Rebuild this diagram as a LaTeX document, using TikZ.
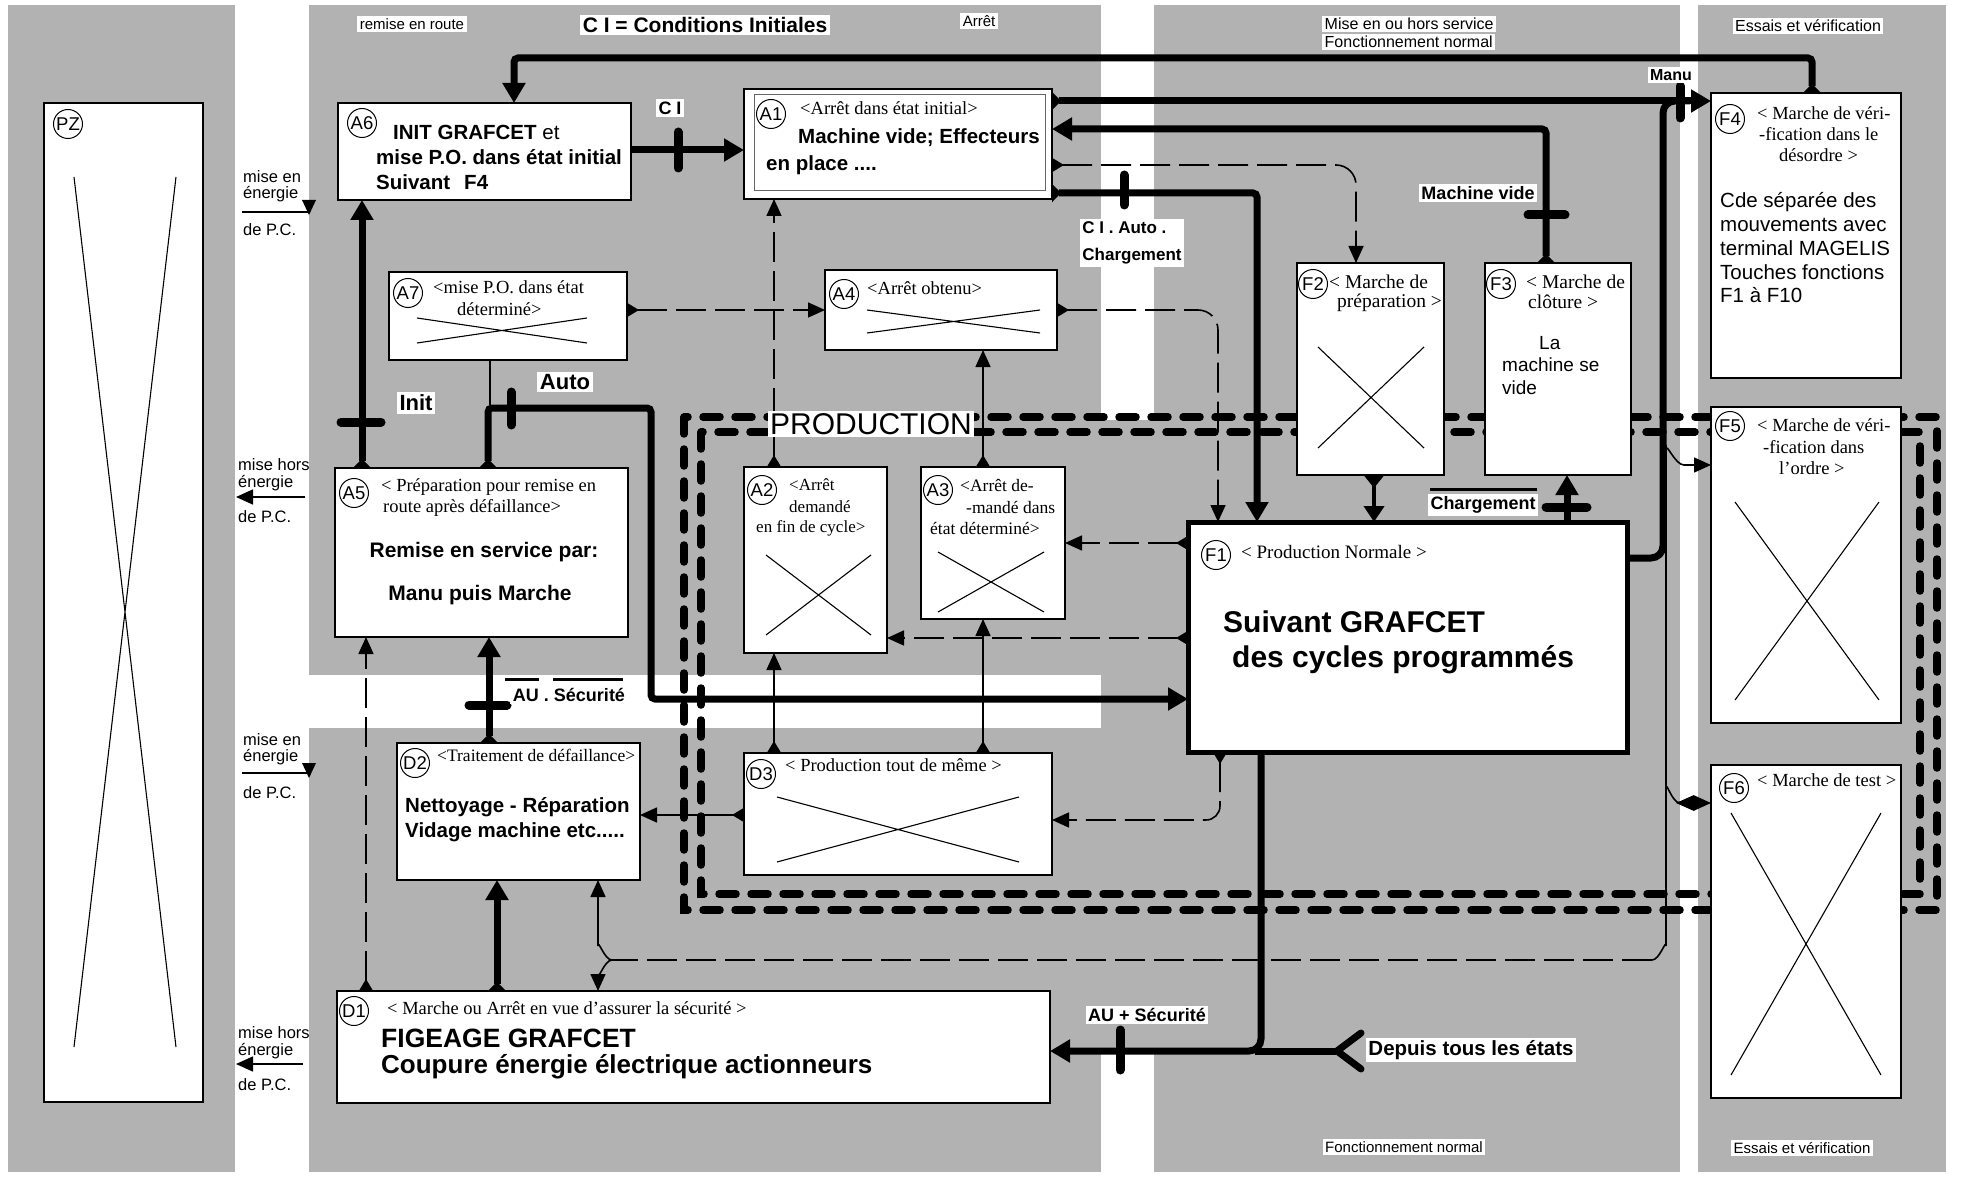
\documentclass[tikz,border=0pt]{standalone}
\usepackage{fontspec}
\setmainfont{Liberation Serif}
\setsansfont{Liberation Sans}
\usetikzlibrary{arrows.meta}
\newcommand\myfs[1]{\fontsize{#1}{#1}\selectfont}
\begin{document}
\begin{tikzpicture}[x=1pt,y=-1pt,
  panel/.style={fill=black!30},
  box/.style={draw=black,line width=1.6pt,fill=white,inner sep=0pt,outer sep=0pt,anchor=north west},
  crs/.style={line width=1.1pt},
  lab/.style={circle,draw=black,line width=1pt,fill=white,inner sep=0pt,minimum size=29pt,font=\sffamily\myfs{18.5}},
  ser/.style={anchor=west,inner sep=0pt,font=\rmfamily\myfs{18.5}},
  bs/.style={anchor=west,inner sep=0pt,font=\sffamily\bfseries\myfs{20.5}},
  rs/.style={anchor=west,inner sep=0pt,font=\sffamily\myfs{20.5}},
  sm/.style={anchor=west,inner sep=0pt,font=\sffamily\myfs{16.5}},
  wl/.style={fill=white,inner sep=2.5pt},
  thk/.style={line width=7pt},
  thn/.style={line width=1.6pt},
  dsh/.style={line width=1.6pt,dash pattern=on 30pt off 9pt},
  bar/.style={line width=9pt,line cap=round},
  prod/.style={line width=7.5pt,dash pattern=on 17pt off 15pt,line cap=round},
  ta/.style={-{Triangle[length=20pt,width=22pt]}},
  tda/.style={{Triangle[reversed,length=9pt,width=18pt]}-{Triangle[length=20pt,width=22pt]}},
  ar/.style={-{Triangle[length=17pt,width=15pt]}},
  da/.style={{Triangle[reversed,length=12pt,width=14pt]}-{Triangle[length=17pt,width=15pt]}}
]
\useasboundingbox (0,0) rectangle (1963,1177);
\fill[white] (0,0) rectangle (1963,1177);
% ---------- zones ----------
\fill[panel] (8,5) rectangle (235,1172);
\fill[panel] (309,5) rectangle (1101,675);
\fill[panel] (309,728) rectangle (1101,1172);
\fill[panel] (1154,5) rectangle (1680,1172);
\fill[panel] (1101,420) rectangle (1154,1053);
\fill[panel] (1698,5) rectangle (1946,1172);
% ---------- production frame ----------
\draw[prod] (684,417) rectangle (1937,910);
\draw[prod] (701,432) rectangle (1920,894);
% ---------- boxes ----------
\node[box,minimum width=159pt,minimum height=999pt] (PZ) at (44,103) {};
\node[box,minimum width=293pt,minimum height=97pt] (A6) at (338,103) {};
\node[box,minimum width=308pt,minimum height=110pt] (A1) at (744,89) {};
\draw[line width=1pt,black!60] (754,95) rectangle (1045,191);
\node[box,minimum width=238pt,minimum height=88pt] (A7) at (389,272) {};
\node[box,minimum width=232pt,minimum height=80pt] (A4) at (825,270) {};
\node[box,minimum width=293pt,minimum height=169pt] (A5) at (335,468) {};
\node[box,minimum width=143pt,minimum height=186pt] (A2) at (744,467) {};
\node[box,minimum width=144pt,minimum height=152pt] (A3) at (921,467) {};
\node[box,minimum width=243pt,minimum height=137pt] (D2) at (397,743) {};
\node[box,minimum width=308pt,minimum height=122pt] (D3) at (744,753) {};
\node[box,minimum width=713pt,minimum height=112pt] (D1) at (337,991) {};
\node[box,minimum width=147pt,minimum height=212pt] (F2) at (1297,263) {};
\node[box,minimum width=146pt,minimum height=212pt] (F3) at (1485,263) {};
\node[box,minimum width=190pt,minimum height=285pt] (F4) at (1711,93) {};
\node[box,line width=5pt,minimum width=439pt,minimum height=230pt] (F1) at (1188,522) {};
\node[box,minimum width=190pt,minimum height=316pt] (F5) at (1711,407) {};
\node[box,minimum width=190pt,minimum height=333pt] (F6) at (1711,765) {};
% ---------- crosses ----------
\draw[crs] (74,177) -- (176,1047) (176,177) -- (74,1047);
\draw[crs] (417,318) -- (587,343) (417,343) -- (587,318);
\draw[crs] (867,310) -- (1040,333) (867,333) -- (1040,310);
\draw[crs] (766,555) -- (871,635) (766,635) -- (871,555);
\draw[crs] (938,552) -- (1044,612) (938,612) -- (1044,552);
\draw[crs] (777,797) -- (1019,862) (777,862) -- (1019,797);
\draw[crs] (1318,347) -- (1424,448) (1318,448) -- (1424,347);
\draw[crs] (1735,502) -- (1879,700) (1735,700) -- (1879,502);
\draw[crs] (1731,813) -- (1881,1075) (1731,1075) -- (1881,813);
% ---------- thick connectors ----------
\draw[thk,tda,rounded corners=4pt] (1812,0 |- F4.north) -- (1812,58) -- (514,58) -- (514,0 |- A6.north);
\draw[thk,tda] (A1.east |- 0,101) -- (F4.west |- 0,101);
\draw[thk,rounded corners=12pt] (F1.east |- 0,558) -- (1663,558) -- (1663,101) -- (1690,101);
\draw[thk,tda,rounded corners=4pt] (1546,0 |- F3.north) -- (1546,129) -- (A1.east |- 0,129);
\draw[thk,tda,rounded corners=4pt] (A1.east |- 0,193) -| (1257,0 |- F1.north);
\draw[thk,ta] (A6.east |- 0,150) -- (A1.west |- 0,150);
\draw[thk,tda] (362,0 |- A5.north) -- (362,0 |- A6.south);
\draw[thk,tda,rounded corners=4pt] (488,0 |- A5.north) -- (488,408) -- (651,408) -- (651,699) -- (F1.west |- 0,699);
\draw[line width=4pt,{Triangle[reversed,length=13pt,width=20pt]}-{Triangle[length=16pt,width=20pt]}] (1374,0 |- F2.south) -- (1374,0 |- F1.north);
\draw[thk,ta] (1567,0 |- F1.north) -- (1567,0 |- F3.south);
\draw[thk,ta,rounded corners=12pt] (1261,0 |- F1.south) |- (D1.east |- 0,1051);
\coordinate (dep) at (1337,1051);
\draw[thk] (dep) -- (1255,1051);
\draw[thk,line cap=round] (1361,1033) -- (dep) -- (1361,1069);
\draw[thk,tda] (489,0 |- D2.north) -- (489,0 |- A5.south);
\draw[thk,tda] (497,0 |- D1.north) -- (497,0 |- D2.south);
% ---------- transition bars ----------
\draw[bar] (1680,86) -- (1680,118);
\draw[bar] (1528,215) -- (1565,215);
\draw[bar] (1124,175) -- (1124,205);
\draw[bar] (678,132) -- (678,168);
\draw[bar] (341,422) -- (381,422);
\draw[bar] (511,392) -- (511,425);
\draw[bar] (1546,507) -- (1587,507);
\draw[bar] (1120,1030) -- (1120,1070);
\draw[bar] (469,705) -- (507,705);
% ---------- thin connectors ----------
\draw[thn] (490,0 |- A7.south) -- (490,405);
\draw[dsh,da] (A7.east |- 0,310) -- (A4.west |- 0,310);
\draw[dsh,da,rounded corners=20pt] (A4.east |- 0,310) -| (1218,0 |- F1.north);
\draw[dsh,da,rounded corners=20pt] (A1.east |- 0,165) -| (1356,0 |- F2.north);
\draw[dsh,da] (774,0 |- A2.north) -- (774,0 |- A1.south);
\draw[thn,da] (983,0 |- A3.north) -- (983,0 |- A4.south);
\draw[dsh,da] (F1.west |- 0,543) -- (A3.east |- 0,543);
\draw[dsh,da] (F1.west |- 0,638) -- (A2.east |- 0,638);
\draw[thn,da] (774,0 |- D3.north) -- (774,0 |- A2.south);
\draw[thn,da] (983,0 |- D3.north) -- (983,0 |- A3.south);
\draw[thn,da] (D3.west |- 0,815) -- (D2.east |- 0,815);
\draw[dsh,da,rounded corners=14pt] (1220,0 |- F1.south) |- (D3.east |- 0,820);
\draw[dsh,da] (366,0 |- D1.north) -- (366,0 |- A5.south);
\coordinate (jtop) at (1666,445);
\coordinate (jbot) at (612,960);
\draw[thn] (jtop) -- (1666,946) to[out=90,in=0] (1652,960);
\draw[dsh] (1652,960) -- (jbot);
\draw[thn,ar] (jbot) to[out=180,in=90] (598,946) -- (598,0 |- D2.south);
\draw[thn,ar] (jbot) to[out=180,in=-90] (598,974) -- (598,0 |- D1.north);
\draw[thn,ar] (1666,450) to[out=90,in=180] (1684,465) -- (F5.west |- 0,465);
\draw[thn,ar] (1666,788) to[out=90,in=180] (1680,803) -- (F6.west |- 0,803);
\fill (1676,803) -- (1694,795) -- (1694,811) -- cycle;
% ---------- power arrows ----------
\draw[thn] (242,212) -- (309,212);
\fill (302,200) -- (316,200) -- (309,215) -- cycle;
\draw[thn,ar] (305,497) -- (236,497);
\draw[thn] (242,773) -- (309,773);
\fill (302,763) -- (316,763) -- (309,778) -- cycle;
\draw[thn,ar] (303,1064) -- (236,1064);
\node[sm] (pa1) at (243,177) {mise en};
\node[sm] (pa2) at (243,194) {énergie};
\node[sm] (pa3) at (243,230) {de P.C.};
\node[sm] (pb1) at (238,465) {mise hors};
\node[sm] (pb2) at (238,483) {énergie};
\node[sm] (pb3) at (238,517) {de P.C.};
\node[sm] (pc1) at (243,740) {mise en};
\node[sm] (pc2) at (243,757) {énergie};
\node[sm] (pc3) at (243,793) {de P.C.};
\node[sm] (pd1) at (238,1033) {mise hors};
\node[sm] (pd2) at (238,1051) {énergie};
\node[sm] (pd3) at (238,1085) {de P.C.};
% ---------- circled labels ----------
\node[lab] (cPZ) at (68,124) {PZ};
\node[lab] (cA6) at (362,123) {A6};
\node[lab] (cA1) at (771,114) {A1};
\node[lab] (cA7) at (408,293) {A7};
\node[lab] (cA4) at (844,294) {A4};
\node[lab] (cA5) at (354,493) {A5};
\node[lab] (cA2) at (762,490) {A2};
\node[lab] (cA3) at (938,490) {A3};
\node[lab] (cD2) at (415,763) {D2};
\node[lab] (cD3) at (761,774) {D3};
\node[lab] (cD1) at (354,1011) {D1};
\node[lab] (cF1) at (1216,555) {F1};
\node[lab] (cF2) at (1313,284) {F2};
\node[lab] (cF3) at (1501,284) {F3};
\node[lab] (cF4) at (1730,119) {F4};
\node[lab] (cF5) at (1730,426) {F5};
\node[lab] (cF6) at (1734,788) {F6};
% ---------- box texts ----------
\node[bs] (tA6a) at (393,132) {INIT GRAFCET {\mdseries et}};
\node[bs] (tA6b) at (376,157) {mise P.O. dans état initial};
\node[bs] (tA6c) at (376,182) {Suivant\hspace{14pt}F4};
\node[ser] (tA1a) at (800,108) {<Arrêt dans état initial>};
\node[bs] (tA1b) at (798,138) {Machine vide; Effecteurs};
\node[bs] (tA1c) at (766,165) {en place ....};
\node[ser] (tA7a) at (433,287) {<mise P.O. dans état};
\node[ser] (tA7b) at (457,309) {déterminé>};
\node[ser] (tA4) at (867,288) {<Arrêt obtenu>};
\node[ser] (tA5a) at (381,487) {< Préparation pour remise en};
\node[ser] (tA5b) at (383,508) {route après défaillance>};
\node[inner sep=0pt,font=\sffamily\bfseries\myfs{21}] (tA5c) at (484,552) {Remise en service par:};
\node[inner sep=0pt,font=\sffamily\bfseries\myfs{21}] (tA5d) at (480,595) {Manu puis Marche};
\node[ser,font=\rmfamily\myfs{17}] (tA2a) at (789,485) {<Arrêt};
\node[ser,font=\rmfamily\myfs{17}] (tA2b) at (789,507) {demandé};
\node[ser,font=\rmfamily\myfs{17}] (tA2c) at (756,528) {en fin de cycle>};
\node[ser,font=\rmfamily\myfs{17.5}] (tA3a) at (960,485) {<Arrêt de-};
\node[ser,font=\rmfamily\myfs{17.5}] (tA3b) at (966,507) {-mandé dans};
\node[ser,font=\rmfamily\myfs{17.5}] (tA3c) at (930,528) {état déterminé>};
\node[ser,font=\rmfamily\myfs{17.5}] (tD2a) at (437,755) {<Traitement de défaillance>};
\node[bs] (tD2b) at (405,807) {Nettoyage - Réparation};
\node[bs] (tD2c) at (405,832) {Vidage machine etc.....};
\node[ser] (tD3) at (785,765) {< Production tout de même >};
\node[ser] (tD1a) at (387,1008) {< Marche ou Arrêt en vue d'assurer la sécurité >};
\node[anchor=west,inner sep=0pt,font=\sffamily\bfseries\myfs{26.5}] (tD1b) at (381,1038) {FIGEAGE GRAFCET};
\node[anchor=west,inner sep=0pt,font=\sffamily\bfseries\myfs{26}] (tD1c) at (381,1067) {Coupure énergie électrique actionneurs};
\node[ser,font=\rmfamily\myfs{19}] (tF1a) at (1241,552) {< Production Normale >};
\node[anchor=west,inner sep=0pt,font=\sffamily\bfseries\myfs{30}] (tF1b) at (1223,622) {Suivant GRAFCET};
\node[anchor=west,inner sep=0pt,font=\sffamily\bfseries\myfs{30}] (tF1c) at (1232,660) {des cycles programmés};
\node[ser,font=\rmfamily\myfs{19.5}] (tF2a) at (1329,282) {< Marche de};
\node[ser,font=\rmfamily\myfs{19.5}] (tF2b) at (1337,303) {préparation >};
\node[ser,font=\rmfamily\myfs{19.5}] (tF3a) at (1526,282) {< Marche de};
\node[ser,font=\rmfamily\myfs{19.5}] (tF3b) at (1528,302) {clôture >};
\node[anchor=west,inner sep=0pt,font=\sffamily\myfs{19}] (tF3c) at (1539,343) {La};
\node[anchor=west,inner sep=0pt,font=\sffamily\myfs{19}] (tF3d) at (1502,365) {machine se};
\node[anchor=west,inner sep=0pt,font=\sffamily\myfs{19}] (tF3e) at (1502,388) {vide};
\node[ser] (tF4a) at (1757,113) {< Marche de véri-};
\node[ser] (tF4b) at (1759,134) {-fication dans le};
\node[ser] (tF4c) at (1779,155) {désordre >};
\node[rs] (tF4d) at (1720,202) {Cde séparée des};
\node[rs] (tF4e) at (1720,225) {mouvements avec};
\node[rs] (tF4f) at (1720,248) {terminal MAGELIS};
\node[rs] (tF4g) at (1720,272) {Touches fonctions};
\node[rs] (tF4h) at (1720,295) {F1 à F10};
\node[ser] (tF5a) at (1757,425) {< Marche de véri-};
\node[ser] (tF5b) at (1763,447) {-fication dans};
\node[ser] (tF5c) at (1779,468) {l'ordre >};
\node[ser] (tF6) at (1757,780) {< Marche de test >};
% ---------- headings ----------
\node[wl,font=\sffamily\myfs{15}] (h1) at (412,24) {remise en route};
\node[wl,font=\sffamily\bfseries\myfs{21}] (h2) at (705,25) {C I = Conditions Initiales};
\node[wl,font=\sffamily\myfs{15}] (h3) at (979,21) {Arrêt};
\node[wl,anchor=west,font=\sffamily\myfs{16}] (h4) at (1322,24) {Mise en ou hors service};
\node[wl,anchor=west,font=\sffamily\myfs{16}] (h5) at (1322,42) {Fonctionnement normal};
\node[wl,font=\sffamily\myfs{16}] (h6) at (1808,26) {Essais et vérification};
\node[wl,font=\sffamily\myfs{15}] (h7) at (1404,1147) {Fonctionnement normal};
\node[wl,font=\sffamily\myfs{15}] (h8) at (1802,1148) {Essais et vérification};
% ---------- transition labels ----------
\node[wl,font=\sffamily\bfseries\myfs{18}] (lCI) at (670,108) {C I};
\node[wl,font=\sffamily\bfseries\myfs{22}] (lInit) at (416,403) {Init};
\node[wl,font=\sffamily\bfseries\myfs{22}] (lAuto) at (565,382) {Auto};
\node[wl,align=left,font=\sffamily\bfseries\fontsize{17}{27}\selectfont] (lCIA) at (1132,243) {C I . Auto .\\Chargement};
\node[wl,font=\sffamily\bfseries\myfs{18}] (lMV) at (1478,193) {Machine vide};
\node[wl,font=\sffamily\bfseries\myfs{16}] (lManu) at (1671,75) {Manu};
\node[wl,font=\sffamily\bfseries\myfs{18}] (lChg) at (1483,505) {Chargement};
\node[wl,font=\sffamily\bfseries\myfs{18}] (lAUs) at (569,695) {AU . Sécurité};
\node[wl,font=\sffamily\bfseries\myfs{18}] (lAUp) at (1147,1015) {AU + Sécurité};
\node[wl,font=\sffamily\bfseries\myfs{20.5}] (lDep) at (1471,1050) {Depuis tous les états};
\node[wl,font=\sffamily\myfs{30}] (lProd) at (871,424) {PRODUCTION};
\draw[line width=3pt] (505,679) -- (539,679) (553,679) -- (623,679);
\draw[line width=3pt] (1430,489) -- (1537,489);
\end{tikzpicture}
\end{document}
